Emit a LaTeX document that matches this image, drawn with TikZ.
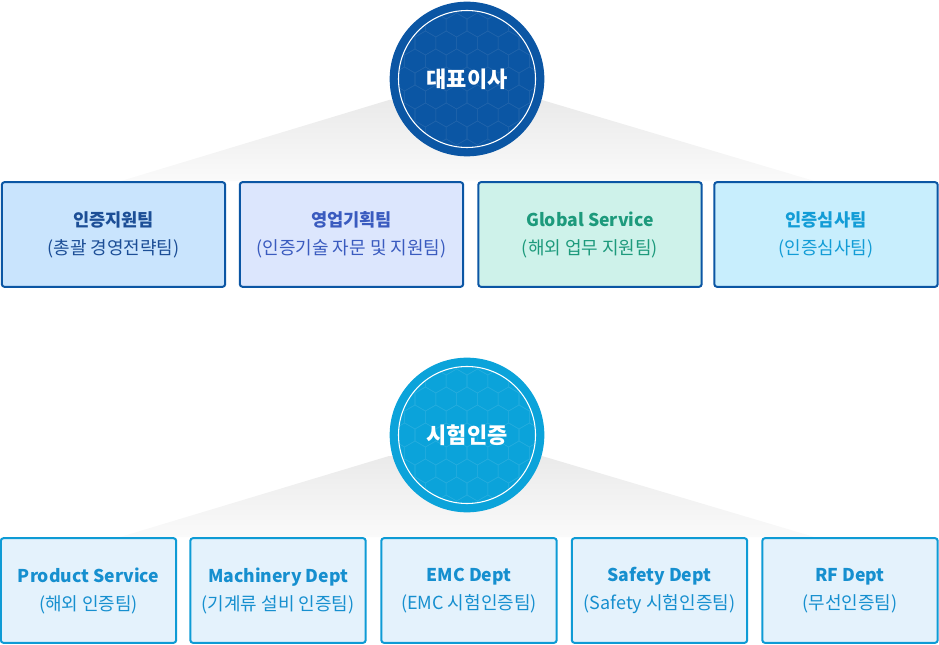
\documentclass[tikz,border=0pt]{standalone}
\usepackage{fontspec}
\setmainfont{Noto Sans CJK KR}
\usetikzlibrary{calc,backgrounds}

\definecolor{ceoblue}{HTML}{0B56A4}
\definecolor{testblue}{HTML}{0BA3DA}
\definecolor{fantop}{HTML}{EAEAEA}
\definecolor{fanbot}{HTML}{FAFAFA}
\definecolor{fillA}{HTML}{C9E4FD}
\definecolor{fillB}{HTML}{DCE6FD}
\definecolor{fillC}{HTML}{CEF2EA}
\definecolor{fillD}{HTML}{C8EEFD}
\definecolor{textA}{HTML}{1C4E96}
\definecolor{textB}{HTML}{3A5BBF}
\definecolor{textC}{HTML}{1D9A7C}
\definecolor{textD}{HTML}{129CD6}
\definecolor{deptfill}{HTML}{E4F2FC}
\definecolor{deptline}{HTML}{0E9BD5}
\definecolor{depttext}{HTML}{168FCF}

\tikzset{
  hexgrid/.style={path picture={
    \coordinate (hc) at (path picture bounding box.center);
    \begin{scope}
      \clip (hc) circle (68);
      \foreach \row in {-5,...,5}
        \foreach \col in {-5,...,5} {
          \pgfmathsetmacro\hx{\col*20.8+mod(abs(\row),2)*10.4}
          \draw[#1, line width=0.4pt] ($(hc)+(\hx,\row*18)$)
            +(30:12) -- +(90:12) -- +(150:12) -- +(210:12) -- +(270:12) -- +(330:12) -- cycle
            +(0,0) -- +(90:12) +(0,0) -- +(210:12) +(0,0) -- +(330:12);
        }
    \end{scope}
    \draw[white, line width=0.8pt] (hc) circle (68.5);
  }}
}
\tikzstyle{headcircle} = [circle, minimum size=116pt, inner sep=0pt,
    text=white, font=\bfseries\fontsize{16.5}{20}\selectfont]
\tikzstyle{teambox} = [rectangle, rounded corners=2pt, line width=1.5pt,
    draw=ceoblue, minimum width=167.5pt, minimum height=78.5pt,
    align=center, font=\fontsize{13.5}{21}\selectfont]
\tikzstyle{deptbox} = [teambox, draw=deptline, fill=deptfill, text=depttext,
    minimum width=131.5pt]
\tikzstyle{fan} = [top color=fantop, bottom color=fanbot]
\newcommand{\boxtitle}[2]{{\bfseries\fontsize{13.2}{21}\selectfont #1}\\#2}

\begin{document}
\begin{tikzpicture}[x=0.75pt, y=-0.75pt]
  \useasboundingbox (0,0) rectangle (939,645);

  % first level
  \node[headcircle, fill=ceoblue, hexgrid={ceoblue!92!white}] (ceo) at (467,79) {대표이사};
  \node[teambox, fill=fillA, text=textA] (t1) at (113.5,234.5) {\boxtitle{인증지원팀}{(총괄 경영전략팀)}};
  \node[teambox, fill=fillB, text=textB] (t2) at (351.5,234.5) {\boxtitle{영업기획팀}{(인증기술 자문 및 지원팀)}};
  \node[teambox, fill=fillC, text=textC] (t3) at (590,234.5) {\boxtitle{Global Service}{(해외 업무 지원팀)}};
  \node[teambox, fill=fillD, text=textD] (t4) at (826,234.5) {\boxtitle{인증심사팀}{(인증심사팀)}};

  % second level
  \node[headcircle, fill=testblue, hexgrid={testblue!90!white}] (test) at (467,435) {시험인증};
  \node[deptbox] (b1) at (88.5,590.5) {\boxtitle{Product Service}{(해외 인증팀)}};
  \node[deptbox] (b2) at (278,590.5) {\boxtitle{Machinery Dept}{(기계류 설비 인증팀)}};
  \node[deptbox] (b3) at (469,590.5) {\boxtitle{EMC Dept}{(EMC 시험인증팀)}};
  \node[deptbox] (b4) at (659.5,590.5) {\boxtitle{Safety Dept}{(Safety 시험인증팀)}};
  \node[deptbox] (b5) at (850,590.5) {\boxtitle{RF Dept}{(무선인증팀)}};

  \begin{scope}[on background layer]
    \shade[fan] ($(ceo.center)+(-78,21)$) -- ($(ceo.center)+(75,21)$)
      -- ($(t4.north)+(-11,0)$) -- ($(t1.north)+(7,0)$) -- cycle;
    \shade[fan] ($(test.center)+(-78,21)$) -- ($(test.center)+(75,21)$)
      -- ($(b5.north)+(-35,0)$) -- ($(b1.north)+(31,0)$) -- cycle;
  \end{scope}
\end{tikzpicture}
\end{document}
